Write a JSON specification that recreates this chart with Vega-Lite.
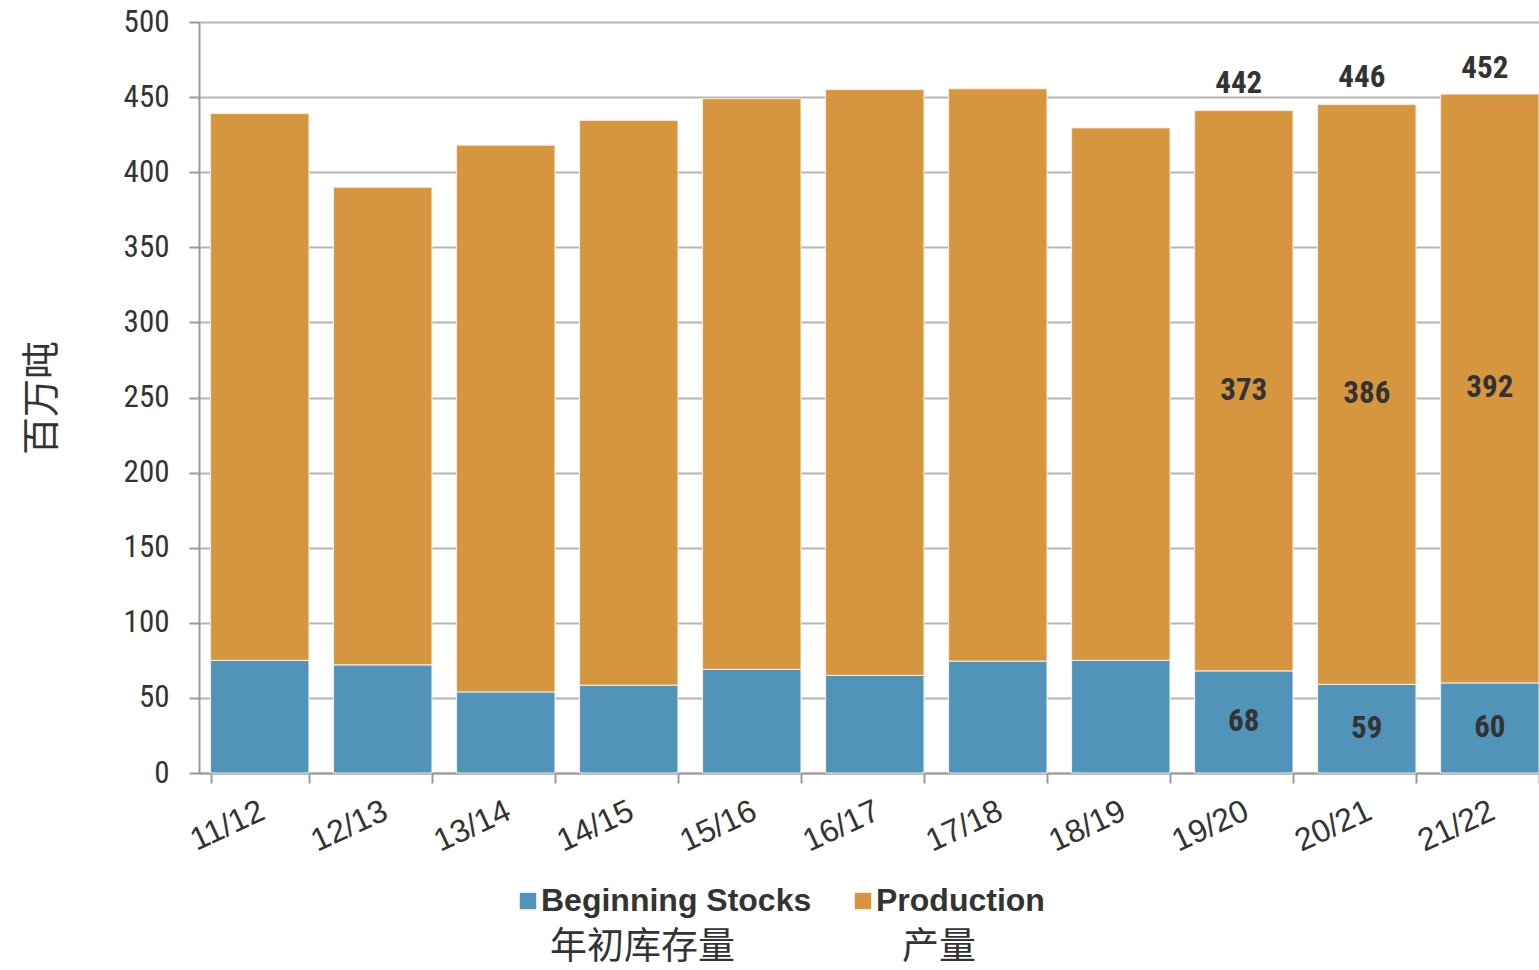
{
  "$schema": "https://vega.github.io/schema/vega-lite/v6.json",
  "width": 1340,
  "height": 751,
  "autosize": {"type": "none"},
  "padding": {"left": 199, "top": 22, "right": 0, "bottom": 197},
  "background": "white",
  "datasets": {
    "parts": [
      {"season": "11/12", "series": "Beginning Stocks", "seriesCn": "年初库存量", "value": 75},
      {"season": "11/12", "series": "Production", "seriesCn": "产量", "value": 364},
      {"season": "12/13", "series": "Beginning Stocks", "seriesCn": "年初库存量", "value": 72},
      {"season": "12/13", "series": "Production", "seriesCn": "产量", "value": 318},
      {"season": "13/14", "series": "Beginning Stocks", "seriesCn": "年初库存量", "value": 54},
      {"season": "13/14", "series": "Production", "seriesCn": "产量", "value": 364},
      {"season": "14/15", "series": "Beginning Stocks", "seriesCn": "年初库存量", "value": 58.5},
      {"season": "14/15", "series": "Production", "seriesCn": "产量", "value": 376},
      {"season": "15/16", "series": "Beginning Stocks", "seriesCn": "年初库存量", "value": 69},
      {"season": "15/16", "series": "Production", "seriesCn": "产量", "value": 380},
      {"season": "16/17", "series": "Beginning Stocks", "seriesCn": "年初库存量", "value": 65},
      {"season": "16/17", "series": "Production", "seriesCn": "产量", "value": 390},
      {"season": "17/18", "series": "Beginning Stocks", "seriesCn": "年初库存量", "value": 74.5},
      {"season": "17/18", "series": "Production", "seriesCn": "产量", "value": 381},
      {"season": "18/19", "series": "Beginning Stocks", "seriesCn": "年初库存量", "value": 75},
      {"season": "18/19", "series": "Production", "seriesCn": "产量", "value": 354.5},
      {"season": "19/20", "series": "Beginning Stocks", "seriesCn": "年初库存量", "value": 68},
      {"season": "19/20", "series": "Production", "seriesCn": "产量", "value": 373},
      {"season": "20/21", "series": "Beginning Stocks", "seriesCn": "年初库存量", "value": 59},
      {"season": "20/21", "series": "Production", "seriesCn": "产量", "value": 386},
      {"season": "21/22", "series": "Beginning Stocks", "seriesCn": "年初库存量", "value": 60},
      {"season": "21/22", "series": "Production", "seriesCn": "产量", "value": 392}
    ],
    "totals": [
      {"season": "19/20", "total": 442},
      {"season": "20/21", "total": 446},
      {"season": "21/22", "total": 452}
    ]
  },
  "encoding": {
    "x": {
      "field": "season",
      "type": "nominal",
      "sort": null,
      "scale": {"paddingInner": 0.2, "paddingOuter": 0.047, "align": 1},
      "axis": {
        "title": null,
        "labelAngle": -25,
        "labelFont": "Liberation Sans",
        "labelFontSize": 32,
        "labelColor": "#333333",
        "labelPadding": 12,
        "labelOffset": -4,
        "tickBand": "extent",
        "tickSize": 10,
        "tickColor": "#9a9a9a",
        "tickWidth": 2,
        "domainColor": "#9a9a9a",
        "domainWidth": 2,
        "grid": false
      }
    }
  },
  "layer": [
    {
      "data": {"name": "parts"},
      "mark": {"type": "bar", "strokeWidth": 1},
      "encoding": {
        "y": {
          "field": "value",
          "type": "quantitative",
          "stack": "zero",
          "scale": {"domain": [0, 500], "nice": false},
          "axis": {
            "title": "百万吨",
            "titleFont": "Noto Sans CJK SC",
            "titleFontSize": 38,
            "titleFontWeight": "normal",
            "titleColor": "#333333",
            "titlePadding": 62,
            "values": [0, 50, 100, 150, 200, 250, 300, 350, 400, 450, 500],
            "labelFont": "Roboto Condensed, DejaVu Sans Condensed, Roboto",
            "labelFontSize": 31,
            "labelColor": "#333333",
            "labelPadding": 20,
            "tickSize": 10,
            "tickColor": "#9a9a9a",
            "tickWidth": 2,
            "domainColor": "#9a9a9a",
            "domainWidth": 2,
            "gridColor": "#b5b5b5",
            "gridWidth": 2
          }
        },
        "order": {"field": "series", "type": "ordinal", "sort": "ascending"},
        "color": {
          "field": "series",
          "type": "nominal",
          "scale": {"domain": ["Beginning Stocks", "Production"], "range": ["#5294b9", "#d6963f"]},
          "legend": {
            "title": null,
            "orient": "none",
            "legendX": 313,
            "legendY": 863,
            "direction": "horizontal",
            "symbolType": "square",
            "symbolSize": 270,
            "symbolStrokeWidth": 0,
            "labelFont": "Liberation Sans",
            "labelFontWeight": "bold",
            "labelFontSize": 32,
            "labelColor": "#333333",
            "labelOffset": -3,
            "labelLimit": 0,
            "columnPadding": 35,
            "padding": 0
          }
        },
        "stroke": {
          "field": "seriesCn",
          "type": "nominal",
          "sort": ["年初库存量", "产量"],
          "scale": {"domain": ["年初库存量", "产量"], "range": ["#eef3f6", "#f6eee2"]},
          "legend": {
            "title": null,
            "orient": "none",
            "legendX": 314,
            "legendY": 907,
            "direction": "horizontal",
            "symbolSize": 0,
            "symbolOpacity": 0,
            "symbolStrokeWidth": 0,
            "labelFont": "Noto Sans CJK SC",
            "labelFontSize": 37,
            "labelColor": "#333333",
            "labelOffset": 0,
            "labelLimit": 0,
            "columnPadding": 130,
            "padding": 0
          }
        }
      }
    },
    {
      "data": {"name": "parts"},
      "transform": [
        {"stack": "value", "groupby": ["season"], "sort": [{"field": "series", "order": "ascending"}], "as": ["v0", "v1"]},
        {"filter": "indexof(['19/20', '20/21', '21/22'], datum.season) >= 0"},
        {"fold": ["v0", "v1"], "as": ["edgeKey", "edge"]},
        {"aggregate": [{"op": "mean", "field": "edge", "as": "mid"}], "groupby": ["season", "series", "value"]}
      ],
      "mark": {"type": "text", "font": "Roboto Condensed, DejaVu Sans Condensed, Roboto", "fontWeight": "bold", "fontSize": 31, "color": "#333333", "baseline": "middle"},
      "encoding": {
        "y": {"field": "mid", "type": "quantitative"},
        "text": {"field": "value", "type": "quantitative"}
      }
    },
    {
      "data": {"name": "totals"},
      "mark": {"type": "text", "font": "Roboto Condensed, DejaVu Sans Condensed, Roboto", "fontWeight": "bold", "fontSize": 31, "color": "#333333", "baseline": "alphabetic", "dy": -16, "dx": -5},
      "encoding": {
        "y": {"field": "total", "type": "quantitative"},
        "text": {"field": "total", "type": "quantitative"}
      }
    }
  ]
}
